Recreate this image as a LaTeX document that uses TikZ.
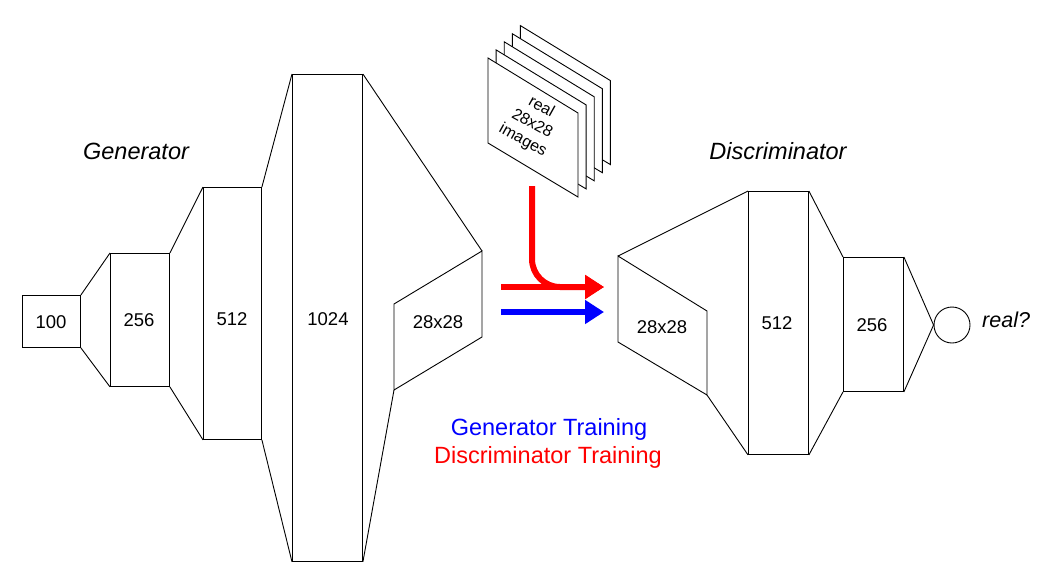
\documentclass[tikz,border=0pt]{standalone}
\usepackage{fontspec}
\setmainfont{Liberation Sans}
\usetikzlibrary{arrows.meta,calc}
\begin{document}
\begin{tikzpicture}[x=1pt,y=-1pt,
  lyr/.style={draw,line width=0.9pt,fill=white,inner sep=0pt,anchor=north west},
  ln/.style={line width=0.9pt},
  lbl/.style={inner sep=0pt,font=\fontsize{18.5}{20}\selectfont},
  ttl/.style={inner sep=0pt,font=\fontsize{23.5}{26}\selectfont\itshape,anchor=base},
  train/.style={inner sep=0pt,font=\fontsize{23.5}{26}\selectfont,anchor=base},
  fat/.style={line width=6pt,-{Triangle[length=19pt,width=23pt]}},
  sheet/.style={draw,line width=0.9pt,fill=white},
  sheettext/.style={inner sep=0pt,rotate=-29,align=center,font=\fontsize{16}{19}\selectfont}]
\useasboundingbox (0,0) rectangle (1061,584);

% ---------- Generator ----------
\node[lyr,minimum width=58pt,minimum height=52pt] (g100) at (22,295) {};
\node[lyr,minimum width=59pt,minimum height=133pt] (g256) at (110,253) {};
\node[lyr,minimum width=58pt,minimum height=252pt] (g512) at (203,187) {};
\node[lyr,minimum width=70pt,minimum height=487pt] (g1024) at (292,74) {};
\coordinate (gpTL) at (394,304);
\coordinate (gpTR) at (482,251);
\coordinate (gpBR) at (482,337);
\coordinate (gpBL) at (394,390);
\draw[ln] (gpTL) -- (gpTR) -- (gpBR) -- (gpBL) -- cycle;

\node[lbl] (t100) at (51,322) {100};
\node[lbl] (t256) at (139,320) {256};
\node[lbl] (t512g) at (232,319) {512};
\node[lbl] (t1024) at (328,319) {1024};
\node[lbl] (t28g) at (438,322) {28x28};

\draw[ln] (g100.north east) -- (g256.north west);
\draw[ln] (g100.south east) -- (g256.south west);
\draw[ln] (g256.north east) -- (g512.north west);
\draw[ln] (g256.south east) -- (g512.south west);
\draw[ln] (g512.north east) -- (g1024.north west);
\draw[ln] (g512.south east) -- (g1024.south west);
\draw[ln] (g1024.north east) -- (gpTR);
\draw[ln] (g1024.south east) -- (gpBL);

\node[ttl] (gen) at (136,159) {Generator};

% ---------- Real images stack ----------
\foreach \i in {4,3,2,1,0}{
  \draw[sheet] ($(488,58)+(8.1*\i,-8.1*\i)$) -- ($(578,113)+(8.1*\i,-8.1*\i)$)
     -- ($(578,197)+(8.1*\i,-8.1*\i)$) -- ($(488,143)+(8.1*\i,-8.1*\i)$) -- cycle;
}
\node[sheettext] (simg) at (532,124) {real\\28x28\\images};

% ---------- Arrows ----------
\coordinate (rdown) at (532,186);
\coordinate (rstart) at (501,287);
\coordinate (rend) at (604,287);
\coordinate (bstart) at (501,312);
\coordinate (bend) at (604,312);
\draw[fat,red,rounded corners=28pt] (rdown) |- (rend);
\draw[fat,red] (rstart) -- (rend);
\draw[fat,blue] (bstart) -- (bend);

\node[train,text=blue] (gtrain) at (549,435) {Generator Training};
\node[train,text=red] (dtrain) at (548,463) {Discriminator Training};

% ---------- Discriminator ----------
\coordinate (dpTL) at (618,256);
\coordinate (dpTR) at (707,311);
\coordinate (dpBR) at (707,395);
\coordinate (dpBL) at (618,342);
\draw[ln] (dpTL) -- (dpTR) -- (dpBR) -- (dpBL) -- cycle;
\node[lyr,minimum width=60pt,minimum height=263pt] (d512) at (748,191) {};
\node[lyr,minimum width=60pt,minimum height=134pt] (d256) at (843,257) {};
\node[draw,line width=0.9pt,circle,minimum size=36pt,inner sep=0pt] (out) at (952,325) {};

\node[lbl] (t28d) at (662,327) {28x28};
\node[lbl] (t512d) at (777,323) {512};
\node[lbl] (t256d) at (872,325) {256};

\draw[ln] (dpTL) -- (d512.north west);
\draw[ln] (dpBR) -- (d512.south west);
\draw[ln] (d512.north east) -- (d256.north west);
\draw[ln] (d512.south east) -- (d256.south west);
\draw[ln] (d256.north east) -- (out.west);
\draw[ln] (d256.south east) -- (out.west);

\node[ttl] (disc) at (778,159) {Discriminator};
\node[inner sep=0pt,font=\fontsize{21.5}{24}\selectfont\itshape,anchor=base west] (realq) at (982,327) {real?};
\end{tikzpicture}
\end{document}
